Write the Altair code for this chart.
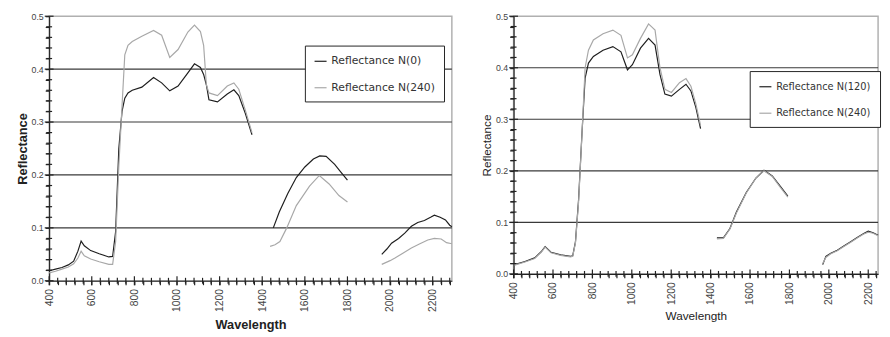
import altair as alt
import pandas as pd

FONT = "Liberation Sans"
LEG_FONT = "DejaVu Sans"

# ---------------- Left panel: Reflectance N(0) vs N(240) ----------------
L_SERIES = ["Reflectance N(0)", "Reflectance N(240)"]

L_WL1 = [400, 430, 460, 490, 515, 535, 550, 565, 595, 635, 680, 698, 712, 727, 742,
         755, 770, 790, 835, 890, 928, 966, 1005, 1051, 1082, 1110, 1125, 1138, 1150,
         1190, 1236, 1267, 1290, 1321, 1352]
L_N0_1 = [0.019, 0.022, 0.025, 0.030, 0.037, 0.056, 0.075, 0.066, 0.057, 0.051, 0.045,
          0.046, 0.093, 0.250, 0.320, 0.345, 0.355, 0.360, 0.366, 0.384, 0.374, 0.359,
          0.368, 0.393, 0.410, 0.403, 0.390, 0.370, 0.342, 0.338, 0.353, 0.361, 0.350,
          0.316, 0.276]
L_N240_1 = [0.015, 0.018, 0.022, 0.026, 0.032, 0.043, 0.056, 0.047, 0.041, 0.036, 0.031,
            0.031, 0.074, 0.217, 0.330, 0.427, 0.445, 0.452, 0.462, 0.473, 0.464, 0.422,
            0.437, 0.470, 0.483, 0.471, 0.445, 0.370, 0.355, 0.350, 0.368, 0.374, 0.362,
            0.322, 0.280]

L_N0_WL2 = [1452, 1480, 1520, 1560, 1600, 1640, 1670, 1700, 1740, 1770, 1800]
L_N0_2 = [0.100, 0.130, 0.165, 0.195, 0.215, 0.230, 0.236, 0.235, 0.220, 0.205, 0.190]
L_N240_WL2 = [1437, 1460, 1483, 1514, 1560, 1622, 1668, 1714, 1760, 1800]
L_N240_2 = [0.065, 0.068, 0.074, 0.099, 0.142, 0.179, 0.199, 0.183, 0.161, 0.149]

L_N0_WL3 = [1961, 1985, 2007, 2040, 2069, 2100, 2130, 2161, 2190, 2208, 2235, 2260, 2280, 2290]
L_N0_3 = [0.050, 0.060, 0.071, 0.080, 0.090, 0.103, 0.110, 0.114, 0.120, 0.124, 0.120,
          0.115, 0.105, 0.102]
L_N240_WL3 = [1961, 2000, 2023, 2060, 2100, 2140, 2177, 2208, 2240, 2265, 2290]
L_N240_3 = [0.031, 0.038, 0.043, 0.052, 0.062, 0.070, 0.077, 0.080, 0.079, 0.072, 0.070]

# ---------------- Right panel: Reflectance N(120) vs N(240) ----------------
R_SERIES = ["Reflectance N(120)", "Reflectance N(240)"]

R_WL1 = [405, 458, 507, 540, 560, 590, 639, 689, 700, 714, 730, 747, 763, 780, 805, 854,
         904, 945, 978, 1003, 1044, 1085, 1118, 1143, 1168, 1201, 1242, 1275, 1300, 1325, 1349]
R_N120_1 = [0.018, 0.024, 0.031, 0.043, 0.053, 0.042, 0.037, 0.034, 0.035, 0.062, 0.145,
            0.272, 0.380, 0.409, 0.422, 0.434, 0.441, 0.431, 0.396, 0.406, 0.438, 0.457,
            0.444, 0.387, 0.349, 0.345, 0.358, 0.368, 0.355, 0.323, 0.282]
R_N240_1 = [0.017, 0.023, 0.030, 0.042, 0.052, 0.041, 0.036, 0.033, 0.034, 0.060, 0.140,
            0.270, 0.400, 0.434, 0.454, 0.466, 0.473, 0.463, 0.419, 0.425, 0.457, 0.485,
            0.473, 0.400, 0.358, 0.352, 0.371, 0.379, 0.364, 0.330, 0.288]

R_WL2 = [1432, 1465, 1498, 1531, 1581, 1630, 1671, 1713, 1754, 1792]
R_N120_2 = [0.070, 0.070, 0.088, 0.120, 0.158, 0.186, 0.201, 0.190, 0.170, 0.151]
R_N240_2 = [0.068, 0.069, 0.087, 0.118, 0.157, 0.186, 0.200, 0.189, 0.168, 0.149]

R_WL3 = [1969, 1985, 2010, 2043, 2076, 2109, 2142, 2175, 2200, 2225, 2250]
R_N120_3 = [0.018, 0.034, 0.040, 0.046, 0.054, 0.062, 0.070, 0.078, 0.083, 0.080, 0.075]
R_N240_3 = [0.020, 0.032, 0.039, 0.045, 0.053, 0.061, 0.069, 0.077, 0.081, 0.079, 0.074]

GRID = [0.1, 0.2, 0.3, 0.4]
COLORS = ["#1e1e1e", "#a8a8a8"]


def frame(series_segments):
    rows = []
    for name, segs in series_segments:
        for i, (wl, vals) in enumerate(segs):
            for w, v in zip(wl, vals):
                rows.append({"Wavelength": w, "Reflectance": v, "series": name,
                             "seg": f"{name}-{i}"})
    return pd.DataFrame(rows)


left_df = frame([
    (L_SERIES[0], [(L_WL1, L_N0_1), (L_N0_WL2, L_N0_2), (L_N0_WL3, L_N0_3)]),
    (L_SERIES[1], [(L_WL1, L_N240_1), (L_N240_WL2, L_N240_2), (L_N240_WL3, L_N240_3)]),
])
right_df = frame([
    (R_SERIES[0], [(R_WL1, R_N120_1), (R_WL2, R_N120_2), (R_WL3, R_N120_3)]),
    (R_SERIES[1], [(R_WL1, R_N240_1), (R_WL2, R_N240_2), (R_WL3, R_N240_3)]),
])


def panel(df, series, xmax, width, height, lx, ly, title_weight, title_size,
          leg_size, xtitle_pad):
    xticks = list(range(400, xmax + 1, 40))
    yticks = [round(i * 0.02, 2) for i in range(26)]
    xaxis = alt.Axis(
        values=xticks, format="d", labelAngle=270,
        labelExpr="datum.value % 200 === 0 ? datum.label : ''",
        tickSize=4, tickWidth=1.2, tickColor="#222",
        grid=False, title="Wavelength", titleFontWeight=title_weight,
        titleFontSize=title_size, labelFontSize=10.5, labelPadding=4,
        titlePadding=xtitle_pad,
    )
    yaxis = alt.Axis(
        values=yticks,
        labelExpr="abs(round(datum.value*10) - datum.value*10) < 0.001 ? format(datum.value, '.1f') : ''",
        tickSize=4, tickWidth=1.2, tickColor="#222",
        grid=False, title="Reflectance", titleFontWeight=title_weight,
        titleFontSize=title_size, labelFontSize=9, labelPadding=2, titlePadding=2,
    )
    xs = alt.Scale(domain=[400, xmax], nice=False, zero=False)
    ys = alt.Scale(domain=[0, 0.5], nice=False)

    grid = alt.Chart(pd.DataFrame({"Reflectance": GRID})).mark_rule(
        color="#3a3a3a", strokeWidth=1.2
    ).encode(y=alt.Y("Reflectance:Q", scale=ys, axis=yaxis))

    # cross-style tick marks on both axes (Excel look)
    xtick_marks = alt.Chart(pd.DataFrame({"Wavelength": xticks})).mark_tick(
        color="#222", thickness=1.2, opacity=1
    ).encode(
        x=alt.X("Wavelength:Q", scale=xs, axis=xaxis),
        y=alt.value(height),
        size=alt.condition("datum.Wavelength % 200 === 0", alt.value(9), alt.value(6)),
    )
    ytick_marks = alt.Chart(pd.DataFrame({"Reflectance": yticks})).mark_tick(
        color="#222", thickness=1.2, opacity=1
    ).encode(
        y=alt.Y("Reflectance:Q", scale=ys, axis=yaxis),
        x=alt.value(0),
        size=alt.condition(
            "abs(round(datum.Reflectance*10) - datum.Reflectance*10) < 0.001",
            alt.value(9), alt.value(6)),
    )

    lines = alt.Chart(df).mark_line(strokeWidth=1.2).encode(
        x=alt.X("Wavelength:Q", scale=xs, axis=xaxis),
        y=alt.Y("Reflectance:Q", scale=ys, axis=yaxis),
        color=alt.Color("series:N", scale=alt.Scale(domain=series, range=COLORS),
                        legend=alt.Legend(
                            title=None, orient="none", legendX=lx, legendY=ly,
                            direction="vertical", fillColor="white", strokeColor="#222",
                            padding=9, symbolType="stroke", symbolStrokeWidth=1.2,
                            symbolSize=150, labelFontSize=leg_size, labelLimit=300,
                            labelFont=LEG_FONT, rowPadding=15, labelColor="#333")),
        detail="seg:N",
    )
    return alt.layer(grid, xtick_marks, ytick_marks, lines).properties(
        width=width, height=height)


left = panel(left_df, L_SERIES, 2290, 411, 270, 261, 30, "bold", 13, 11, 7)
right = panel(right_df, R_SERIES, 2250, 372, 263, 241, 56, "normal", 12, 10, 6)

chart = alt.hconcat(left, right, spacing=24).resolve_scale(
    color="independent", x="independent", y="independent"
).properties(
    padding={"left": 7, "top": 0, "right": 0, "bottom": 0}
).configure_view(
    stroke="#b0b0b0", strokeWidth=1.5
).configure_axis(
    labelFont=FONT, titleFont=FONT, labelColor="#444", titleColor="#222",
    domainColor="#222", domainWidth=1.2
)

chart.save("out.html", embed_options={"renderer": "svg", "actions": False})
